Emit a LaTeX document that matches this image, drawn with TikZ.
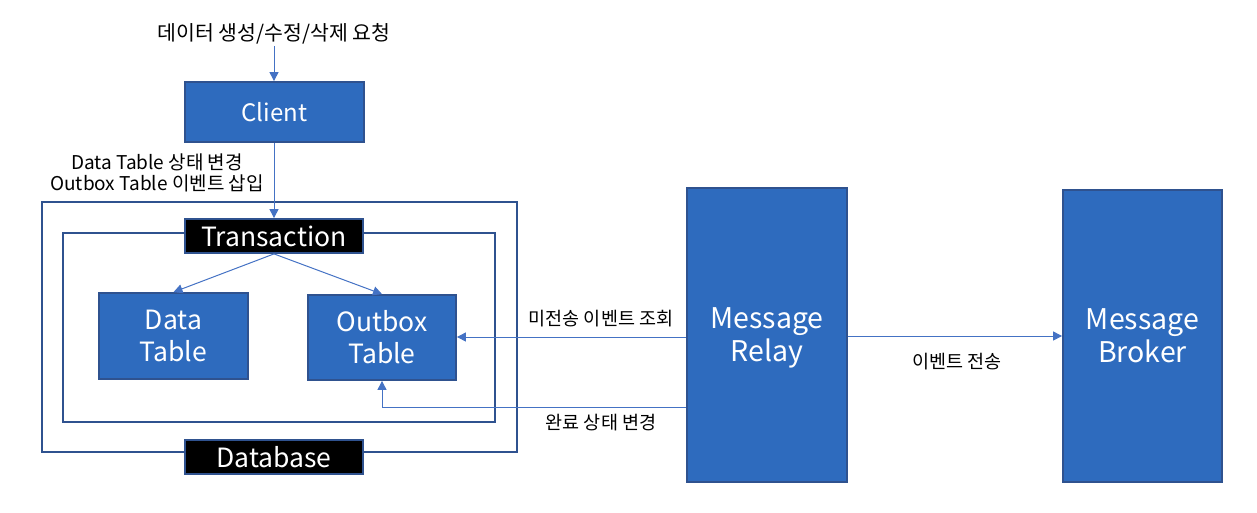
\documentclass[tikz,border=0pt]{standalone}
\usepackage{fontspec}
\setmainfont{Noto Sans CJK KR}
\usetikzlibrary{arrows.meta}
\definecolor{boxfill}{HTML}{2E6BBE}
\definecolor{boxline}{HTML}{2F528F}
\definecolor{conn}{HTML}{4472C4}
\tikzset{
  bluebox/.style={draw=boxline, line width=1.8pt, fill=boxfill, text=white, align=center, inner sep=0pt},
  frame/.style={draw=boxline, line width=1.8pt},
  tagbox/.style={draw=boxline, line width=1.8pt, fill=black, text=white, inner sep=0pt},
  conn/.style={draw=conn, line width=1pt, -{Triangle[length=9pt,width=9pt]}},
  lbl/.style={text=black, align=center, inner sep=0pt},
}
\begin{document}
\begin{tikzpicture}[x=1pt,y=-1pt]
\useasboundingbox (0,0) rectangle (1257,512);
% frames
\draw[frame] (42,202) rectangle (517,452);
\draw[frame] (63,233) rectangle (495,422);
% top label and client
\node[lbl, font=\fontsize{20.5}{24}\selectfont] (req) at (274,34) {데이터 생성/수정/삭제 요청};
\node[bluebox, minimum width=179pt, minimum height=60pt, font=\fontsize{24}{28}\selectfont] (client) at (274.5,112) {Client};
% transaction / database tags
\node[tagbox, minimum width=178pt, minimum height=34pt, font=\fontsize{26.5}{30}\selectfont] (trans) at (274,236) {Transaction};
\node[tagbox, minimum width=178pt, minimum height=34pt, font=\fontsize{26.5}{30}\selectfont] (db) at (274,457) {Database};
% tables
\node[bluebox, minimum width=149pt, minimum height=86pt, font=\fontsize{26.5}{32}\selectfont] (data) at (173.5,336) {Data\\Table};
\node[bluebox, minimum width=148pt, minimum height=85pt, font=\fontsize{26.5}{32}\selectfont] (outbox) at (382,337.5) {Outbox\\Table};
% relay and broker
\node[bluebox, minimum width=160pt, minimum height=294pt, font=\fontsize{28.5}{33}\selectfont] (relay) at (767,335) {Message\\\raisebox{0pt}[\height][0pt]{Relay}};
\node[bluebox, minimum width=159pt, minimum height=292pt, font=\fontsize{28.5}{33}\selectfont] (broker) at (1142.5,336) {Message\\Broker};
% labels
\node[lbl, font=\fontsize{19}{21}\selectfont] (clbl) at (157,173) {Data Table 상태 변경\\Outbox Table 이벤트 삽입};
\node[lbl, font=\fontsize{18.5}{20}\selectfont] (q) at (601,319) {미전송 이벤트 조회};
\node[lbl, font=\fontsize{18.5}{20}\selectfont] (u) at (601,423) {완료 상태 변경};
\node[lbl, font=\fontsize{18.5}{20}\selectfont] (s) at (957,362) {이벤트 전송};
% connectors
\coordinate (reqend) at (274,46);
\draw[conn] (reqend) -- (client.north -| reqend);
\draw[conn] (client.south -| reqend) -- (trans.north -| reqend);
\draw[conn] (trans.south) -- (data.north);
\draw[conn] (trans.south) -- (outbox.north);
\draw[conn] (relay.west |- 0,337) -- (outbox.east |- 0,337);
\coordinate (bend) at (382,407);
\draw[conn] (relay.west |- bend) -- (bend) -- (outbox.south);
\draw[conn] (relay.east |- 0,336) -- (broker.west |- 0,336);
\end{tikzpicture}
\end{document}
